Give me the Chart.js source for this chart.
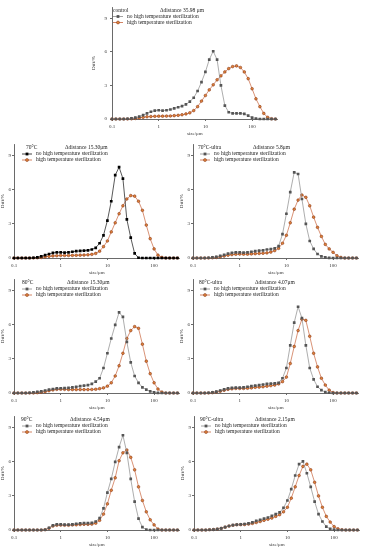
<!DOCTYPE html>
<html>
<head>
<meta charset="utf-8">
<script src="https://cdn.jsdelivr.net/npm/chart.js@4.4.1/dist/chart.umd.min.js"></script>
<style>
body{margin:0;background:#fff;width:365px;height:550px;position:relative;overflow:hidden}
canvas{position:absolute}
</style>
</head>
<body>
<canvas id="c1"></canvas>
<canvas id="c2"></canvas>
<canvas id="c3"></canvas>
<canvas id="c4"></canvas>
<canvas id="c5"></canvas>
<canvas id="c6"></canvas>
<canvas id="c7"></canvas>
<script>
// particle size classes (μm)
var sizes = [0.1,0.121,0.147,0.178,0.215,0.261,0.316,0.383,0.464,0.562,0.681,0.825,1,1.21,1.47,1.78,2.15,2.61,3.16,3.83,4.64,5.62,6.81,8.25,10,12.1,14.7,17.8,21.5,26.1,31.6,38.3,46.4,56.2,68.1,82.5,100,121,147,178,215,261,316];
var xTicks = [0.1,1,10,100];
var yTicks = [0,3,6,9];
var seriesNames = ['no high temperature sterilization','high temperature sterilization'];

// control
var ctrlNo = [0,0,0,0,0.02,0.05,0.12,0.22,0.35,0.5,0.65,0.75,0.78,0.75,0.78,0.85,0.95,1.05,1.15,1.3,1.55,1.9,2.5,3.3,4.2,5.3,6.05,5.3,3.0,1.2,0.6,0.5,0.5,0.5,0.45,0.3,0.12,0.04,0,0,0,0,0];
var ctrlHT = [0,0,0,0,0,0.02,0.05,0.1,0.15,0.2,0.22,0.24,0.25,0.25,0.26,0.27,0.3,0.33,0.38,0.45,0.55,0.75,1.1,1.6,2.1,2.6,3.05,3.5,3.85,4.2,4.5,4.68,4.74,4.6,4.2,3.6,2.7,1.8,1.1,0.5,0.15,0.02,0];
// 70°C
var c70No = [0,0,0,0,0,0.02,0.06,0.15,0.25,0.35,0.45,0.5,0.5,0.48,0.5,0.55,0.6,0.62,0.65,0.68,0.75,0.9,1.3,2.0,3.3,5.0,7.3,8.0,7.0,3.4,1.8,0.4,0.02,0,0,0,0,0,0,0,0,0,0];
var c70HT = [0,0,0,0,0,0,0.02,0.05,0.1,0.15,0.18,0.2,0.22,0.22,0.22,0.23,0.24,0.25,0.26,0.28,0.32,0.4,0.6,1.0,1.5,2.3,3.1,3.9,4.6,5.2,5.5,5.45,5.0,4.2,2.9,1.7,0.8,0.25,0.05,0,0,0,0];
// 70°C-ultra
var c70uNo = [0,0,0,0,0.02,0.05,0.1,0.18,0.28,0.38,0.45,0.5,0.5,0.48,0.5,0.55,0.6,0.65,0.68,0.75,0.78,0.85,1.05,2.1,3.9,5.8,7.55,7.4,5.2,3.0,1.5,0.8,0.35,0.15,0.05,0.01,0,0,0,0,0,0,0];
var c70uHT = [0,0,0,0,0,0.02,0.05,0.1,0.17,0.25,0.3,0.33,0.35,0.34,0.34,0.36,0.38,0.4,0.42,0.45,0.52,0.65,0.85,1.3,2.0,3.1,4.3,5.1,5.55,5.35,4.6,3.6,2.7,1.9,1.2,0.8,0.5,0.2,0.05,0,0,0,0];
// 80°C
var c80No = [0,0,0,0,0.02,0.05,0.1,0.15,0.22,0.3,0.35,0.4,0.42,0.43,0.45,0.5,0.55,0.6,0.65,0.7,0.8,1.0,1.3,2.2,3.5,4.8,6.0,7.1,6.7,4.5,2.7,1.5,0.9,0.5,0.3,0.15,0.06,0.01,0,0,0,0,0];
var c80HT = [0,0,0,0,0,0,0.03,0.07,0.12,0.2,0.27,0.32,0.33,0.32,0.3,0.3,0.3,0.3,0.3,0.3,0.31,0.33,0.38,0.45,0.6,0.9,1.5,2.4,3.5,4.8,5.5,5.85,5.7,4.3,2.8,1.7,0.9,0.35,0.08,0,0,0,0];
// 80°C-ultra
var c80uNo = [0,0,0,0,0.02,0.06,0.12,0.22,0.32,0.4,0.45,0.47,0.48,0.5,0.55,0.6,0.65,0.7,0.75,0.8,0.82,0.85,0.9,1.3,2.2,4.2,6.2,7.6,6.6,4.2,2.2,1.2,0.55,0.25,0.08,0.02,0,0,0,0,0,0,0];
var c80uHT = [0,0,0,0,0,0.03,0.08,0.15,0.24,0.32,0.37,0.4,0.4,0.4,0.42,0.45,0.5,0.52,0.55,0.6,0.65,0.7,0.8,1.0,1.4,2.6,4.1,5.5,6.5,6.4,5.0,3.5,2.3,1.3,0.7,0.25,0.04,0,0,0,0,0,0];
// 90°C
var c90No = [0,0,0,0,0,0,0,0,0.02,0.2,0.4,0.5,0.5,0.48,0.48,0.5,0.55,0.58,0.6,0.6,0.62,0.75,1.05,1.9,3.3,4.5,6.0,7.3,8.35,6.8,4.5,2.5,1.0,0.25,0.03,0,0,0,0,0,0,0,0];
var c90HT = [0,0,0,0,0,0,0,0,0.02,0.15,0.35,0.42,0.43,0.42,0.42,0.44,0.46,0.48,0.5,0.5,0.52,0.6,0.85,1.4,2.3,3.5,4.6,6.1,6.8,7.05,6.4,5.3,3.8,2.6,1.6,0.9,0.45,0.08,0,0,0,0,0];
// 90°C-ultra
var c90uNo = [0,0,0,0,0.02,0.04,0.08,0.15,0.25,0.35,0.43,0.48,0.5,0.53,0.58,0.68,0.8,0.9,1.0,1.1,1.25,1.4,1.55,1.95,2.6,3.6,4.8,5.8,6.05,5.0,3.8,2.5,1.4,0.75,0.3,0.1,0.03,0,0,0,0,0,0];
var c90uHT = [0,0,0,0,0.02,0.04,0.08,0.15,0.25,0.35,0.42,0.46,0.47,0.48,0.52,0.58,0.66,0.75,0.85,0.95,1.05,1.2,1.35,1.6,2.0,2.8,3.8,4.8,5.6,5.8,5.3,4.2,3.0,2.0,1.2,0.7,0.3,0.1,0.02,0,0,0,0];

var panels = [
  {id:'c1', left:112, top:3, yw:21, ytp:3, title:'control', dist:'\u0394distance 35.98 \u03bcm', no:ctrlNo, ht:ctrlHT, mark:'#555555', line:'#8a8a8a', tdx:1, ddx:48, ldx:1},
  {id:'c2', left:14, top:142, yw:14, ytp:1, title:'70\u00b0C', dist:'\u0394distance 15.30\u03bcm', no:c70No, ht:c70HT, mark:'#000000', line:'#111111', tdx:12, ddx:51, ldx:8},
  {id:'c3', left:193, top:142, yw:14, ytp:1, title:'70\u00b0C-ultra', dist:'\u0394distance 5.8\u03bcm', no:c70uNo, ht:c70uHT, mark:'#555555', line:'#8a8a8a', tdx:5, ddx:60, ldx:7},
  {id:'c4', left:14, top:277, yw:14, ytp:1, title:'80\u00b0C', dist:'\u0394distance 15.30\u03bcm', no:c80No, ht:c80HT, mark:'#555555', line:'#8a8a8a', tdx:8, ddx:53, ldx:8},
  {id:'c5', left:193, top:277, yw:14, ytp:1, title:'80\u00b0C-ultra', dist:'\u0394distance 4.07\u03bcm', no:c80uNo, ht:c80uHT, mark:'#555555', line:'#8a8a8a', tdx:6, ddx:62, ldx:7},
  {id:'c6', left:14, top:414, yw:14, ytp:1, title:'90\u00b0C', dist:'\u0394distance 4.54\u03bcm', no:c90No, ht:c90HT, mark:'#555555', line:'#8a8a8a', tdx:7, ddx:56, ldx:8},
  {id:'c7', left:194, top:414, yw:14, ytp:1, title:'90\u00b0C-ultra', dist:'\u0394distance 2.15\u03bcm', no:c90uNo, ht:c90uHT, mark:'#555555', line:'#8a8a8a', tdx:6, ddx:61, ldx:7}
];

Chart.defaults.font.family = '"Liberation Serif", "DejaVu Serif", serif';
Chart.defaults.color = '#333';

// panel label, distance note and the little legend inside the plot
var panelText = {
  id: 'panelText',
  afterDraw: function(chart, args, o){
    var ctx = chart.ctx, a = chart.chartArea;
    ctx.save();
    ctx.font = '5.5px "Liberation Serif", serif';
    ctx.fillStyle = '#222';
    ctx.textBaseline = 'middle';
    ctx.fillText(o.title, a.left + o.tdx, a.top + 3.5);
    ctx.fillText(o.dist, a.left + o.ddx, a.top + 3.5);
    chart.data.datasets.forEach(function(ds, i){
      var y = a.top + 9.5 + i * 6, x0 = a.left + o.ldx;
      ctx.strokeStyle = ds.borderColor;
      ctx.lineWidth = 0.8;
      ctx.beginPath(); ctx.moveTo(x0, y); ctx.lineTo(x0 + 10, y); ctx.stroke();
      ctx.fillStyle = ds.pointBackgroundColor;
      if (ds.pointStyle == 'rect') {
        ctx.fillRect(x0 + 3.6, y - 1.4, 2.8, 2.8);
      } else {
        ctx.beginPath(); ctx.arc(x0 + 5, y, 1.5, 0, Math.PI * 2); ctx.fill();
        ctx.strokeStyle = ds.pointBorderColor; ctx.lineWidth = 0.5; ctx.stroke();
      }
      ctx.fillStyle = '#222';
      ctx.fillText(ds.label, x0 + 14, y);
    });
    ctx.restore();
  }
};

function makePanel(p){
  var cv = document.getElementById(p.id);
  cv.width = p.yw + 170;
  cv.height = 136;
  cv.style.left = (p.left - p.yw) + 'px';
  cv.style.top = (p.top - 2) + 'px';
  var pts = function(arr){ return sizes.map(function(s, i){ return {x: s, y: arr[i]}; }); };
  new Chart(cv, {
    type: 'line',
    data: {
      datasets: [{
        label: seriesNames[0],
        data: pts(p.no),
        borderColor: p.line,
        borderWidth: 0.7,
        pointStyle: 'rect',
        pointRadius: 1.9,
        pointBackgroundColor: p.mark,
        pointBorderWidth: 0,
        clip: 4
      }, {
        label: seriesNames[1],
        data: pts(p.ht),
        borderColor: '#c8643c',
        borderWidth: 0.7,
        pointStyle: 'circle',
        pointRadius: 1.35,
        pointBackgroundColor: '#e0843a',
        pointBorderColor: '#7a2810',
        pointBorderWidth: 0.5,
        clip: 4
      }]
    },
    options: {
      responsive: false,
      animation: false,
      events: [],
      layout: {padding: {top: 2, right: 4, left: 0, bottom: 0}},
      plugins: {
        legend: {display: false},
        tooltip: {enabled: false},
        panelText: {title: p.title, dist: p.dist, tdx: p.tdx, ddx: p.ddx, ldx: p.ldx}
      },
      scales: {
        x: {
          type: 'logarithmic', min: 0.1, max: 350,
          afterBuildTicks: function(s){ s.ticks = xTicks.map(function(v){ return {value: v}; }); },
          afterFit: function(s){ s.height = 18; },
          ticks: {font: {size: 5}, padding: 3, maxRotation: 0, autoSkip: false, callback: function(v){ return String(v); }},
          grid: {drawOnChartArea: false, tickLength: 2, color: '#444', lineWidth: 0.8},
          border: {color: '#444', width: 0.8},
          title: {display: true, text: 'size/\u03bcm', font: {size: 5}, padding: 0}
        },
        y: {
          min: 0, max: 10,
          afterBuildTicks: function(s){ s.ticks = yTicks.map(function(v){ return {value: v}; }); },
          afterFit: function(s){ s.width = p.yw; },
          ticks: {font: {size: 5}, padding: p.ytp},
          grid: {drawOnChartArea: false, tickLength: 2, color: '#444', lineWidth: 0.8},
          border: {color: '#444', width: 0.8},
          title: {display: true, text: 'Diff/%', font: {size: 5}, padding: 0}
        }
      }
    },
    plugins: [panelText]
  });
}

panels.forEach(makePanel);
</script>
</body>
</html>
